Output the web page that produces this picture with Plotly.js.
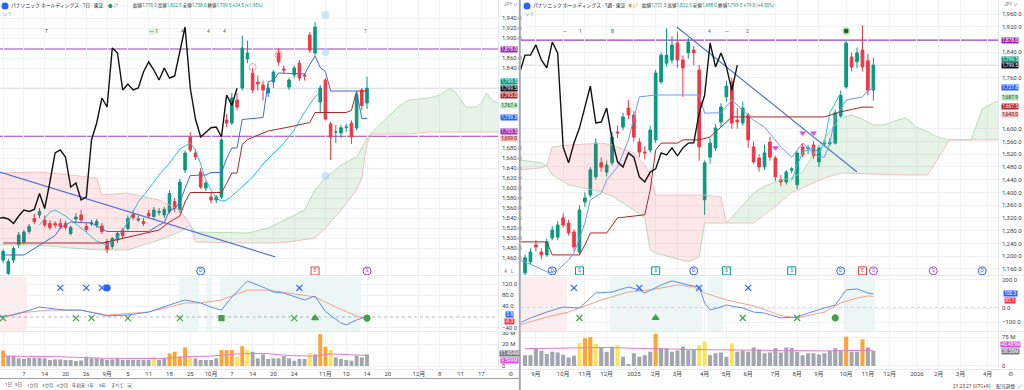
<!DOCTYPE html>
<html><head><meta charset="utf-8">
<script src="https://cdn.plot.ly/plotly-3.0.1.min.js"></script>
<style>html,body{margin:0;padding:0;background:#fff;}#chart{width:1024px;height:390px;}</style>
</head><body><div id="chart"></div>
<script>
// ================= DAILY (left) =================
const dTickIdx  = [0,4,8,12,16,20,24,28,32,36,40,44,48,52,56,62,66,70,74,80,84,88,92];
const dTickText = ["8月","7","14","20","26","9月","5","11","18","25","10月","7","14","20","24","11月","10","14","20","12月","8","11","17"];
const dOpen  = [1456,1429,1456,1486,1492,1513,1539,1546,1536,1529,1529,1529,1529,1509,1538,1546,1523,1528,1526,1524,1493,1483,1496,1516,1519,1548,1536,1533,1549,1543,1551,1546,1553,1573,1556,1636,1702,1670,1632,1600,1582,1576,1582,1736,1730,1776,1800,1858,1830,1812,1806,1790,1812,1870,1838,1802,1826,1850,1826,1906,1870,1772,1816,1728,1712,1710,1721.5,1730,1720,1796,1770];
const dHigh  = [1478,1458,1483,1512,1516,1528,1548,1560,1545,1536,1534,1538,1535,1525,1550,1556,1530,1536,1538,1530,1498,1502,1512,1520,1545,1556,1545,1540,1556,1562,1560,1562,1595,1580,1618,1675,1712,1678,1640,1614,1592,1586,1700,1748,1790,1790,1905,1895,1840,1825,1815,1808,1836,1880,1845,1820,1845,1856,1830,1912,1932,1806,1820,1732,1726,1726,1728,1735,1790,1800,1822.5];
const dLow   = [1450,1425,1450,1480,1488,1508,1528,1540,1522,1516,1520,1518,1516,1505,1530,1532,1512,1524,1520,1508,1470,1478,1490,1500,1515,1536,1532,1524,1540,1538,1545,1540,1550,1552,1550,1630,1672,1656,1598,1594,1570,1570,1578,1722,1726,1755,1795,1850,1790,1795,1775,1782,1800,1845,1828,1796,1820,1814,1815,1870,1865,1750,1735,1656,1690,1700,1712,1688,1715,1756,1758];
const dClose = [1473,1453,1479,1506,1512,1523,1533,1553,1526,1521,1526,1523,1521,1521,1542,1536,1517,1531,1533,1513,1476,1499,1509,1505,1539,1541,1538,1529,1544,1556,1553,1557,1589,1559,1612,1670,1676,1662,1602,1610,1576,1582,1696,1730,1780,1762,1880,1870,1796,1808,1796,1800,1832,1852,1836,1816,1840,1820,1824,1876,1922,1800,1738,1702,1712,1720.5,1722,1702,1786,1765,1799.5];
const dVol   = [14,9.4,9.4,7,6.5,7.5,7.5,7.5,7,5.5,6,6,5.5,5.5,4.5,5,8.5,7,7,6.5,5.5,6,7,5.5,5.5,5.5,5.5,5.5,5.5,8.5,5.5,7,11.5,13,8.5,17,8.5,7,5.5,5.5,5.5,7,14.5,14.5,14.5,8.5,18,14.5,13,7,10.6,6.4,7,7,9,7,4.8,6.4,6.4,12,10.6,29,17.5,14.5,7.9,6.4,5.5,4.8,9.4,7.9,10.6];
const dVolFlag = ("o"+"n".repeat(28)+"y"+"nn"+"oooo"+"y"+"nnnnn"+"oooyoy"+"n".repeat(11)+"y"+"n"+"ooy"+"n".repeat(7)).split("");
const dVolMaX = [0,10,20,30,35,40,45,50,55,60,63,66,70];
const dVolMa  = [9,8.5,7,6.8,8.5,9,11,11.5,9.5,9,11,10.5,9.6];
// ichimoku (daily)
const dTenkanX = [0,4,8,10,11,13,17,20,28,29,30,31,32,33,34,35,36,39,40,42,43,44,45,46,50,51,52,53,58,59,60,61,62,63,68,69,70];
const dTenkan  = [1466,1466,1492,1505,1520,1532,1530,1513,1513,1520,1526,1531,1555,1559,1571,1599,1625,1626,1631,1631,1659,1680,1680,1737,1741,1813,1815,1830,1828,1847,1864,1841,1833,1794,1794,1739,1739];
const dKijunX = [0,19,20,30,32,34,35,36,41,42,43,44,45,46,47,51,55,59,60,66,67,68,70];
const dKijun  = [1490,1490,1492,1516,1532,1544,1572,1591,1591,1591,1609,1630,1630,1687,1697,1714,1722,1731,1751,1751,1755,1794,1794];
const dChikouX = Array.from({length:47},(_,k)=>k-1);
const dChikou = [1539,1541,1538,1529,1544,1556,1553,1557,1589,1559,1612,1670,1676,1662,1602,1610,1576,1582,1696,1730,1780,1762,1880,1870,1796,1808,1796,1800,1832,1852,1836,1816,1840,1820,1824,1876,1922,1800,1738,1702,1712,1720.5,1722,1702,1786,1765,1799.5];
const dCloudX = [-1,7,13,18,19,24,30,34,36,37,47,51,55,58,60,62,65,68,69,70,71,76,78,82,84,86,87,89,91,92,93,94,96];
const dSpanA  = [1486,1486,1480,1476,1476,1476,1496,1512,1526,1512,1510,1520,1540,1556,1596,1620,1646,1662,1680,1700,1712,1762,1776,1780,1786,1800,1792,1762,1762,1770,1790,1776,1766];
const dSpanB  = [1630,1632,1626,1620,1586,1590,1576,1556,1526,1492,1490,1490,1492,1496,1500,1520,1556,1596,1620,1690,1708,1708,1708,1712,1712,1712,1712,1712,1712,1712,1712,1712,1712];
const dCyanX = [7,9,10,12,15,18,20,22,24,26,28,30,32,34,36,37,38,39,40,41,42,43,44,45,46,47,48,50,52,54,56,58,60,61];
const dCyan  = [1526,1552,1556,1544,1520,1494,1486,1500,1532,1572,1598,1626,1650,1678,1690,1676,1648,1616,1596,1580,1574,1576,1584,1594,1604,1612,1622,1648,1670,1690,1716,1752,1782,1792];
const dLevels = [1878,1703.5];
const dTrendX = [-0.6,52.4], dTrendY = [1632,1462];
// macd (daily)
const dMacdX = [-1,2,7,12,15,20,24,28,32,35,38,40,42,44,47,49,50,52,54,58,60,62,65,66,68,70];
const dMacd  = [0,7,36,25,25,4,7,18,44,62,51,36,25,73,131,116,109,91,87,62,76,20,-22,-29,-11,3.8];
const dSigX  = [-1,3,9,15,20,28,35,38,42,47,51,55,60,64,68,70];
const dSig   = [-4,15,25,25,7,18,51,51,62,98,98,87,73,36,4,-8.3];
const dZones = [[-1,4.6,"sell"],[33.8,37.7,"buy"],[39,40,"buy"],[41.7,68.8,"buy"]];
const dCrossUp = [11,16,19,57], dDotUp=[20];
const dCrossDn = [0,14,17,24,34,56], dSqDn=[42], dTriDn=[60], dDotDn=[70];
const dEvents = [[38,"D","blue"],[60,"E","red"],[70,"S","purple"]];

// ================= WEEKLY (right) =================
const wTickIdx  = [2,7,11,15,20,24,28,33,37,41,46,50,54,59,63,67,72,76,80,85];
const wTickText = ["9月","10月","11月","12月","2025","2月","3月","4月","5月","6月","7月","8月","9月","10月","11月","12月","2026","2月","3月","4月"];
const wOpen  = [1148,1182,1235,1213,1204,1257,1260,1320,1304,1276,1213,1370,1392,1449,1493,1464,1493,1590,1605,1665,1643,1558,1527,1533,1565,1747,1806,1816,1869,1816,1838,1847,1784,1377,1511,1540,1621,1700,1747,1627,1618,1643,1543,1508,1480,1558,1508,1440,1433,1470,1424,1543,1538,1549,1496,1552,1553,1555,1640,1731,1825,1810,1847,1813,1721.5];
const wHigh  = [1205,1225,1250,1225,1255,1295,1310,1335,1315,1285,1360,1400,1480,1570,1510,1500,1590,1610,1650,1690,1655,1570,1545,1610,1785,1840,1915,1890,1905,1830,1885,1860,1800,1500,1570,1615,1680,1750,1760,1665,1685,1650,1560,1520,1550,1575,1515,1455,1470,1480,1530,1555,1550,1560,1548,1565,1570,1660,1720,1880,1840,1855,1925,1835,1822.5];
const wLow   = [1135,1175,1215,1190,1198,1250,1250,1290,1265,1215,1205,1355,1385,1440,1465,1450,1485,1570,1595,1630,1560,1510,1505,1525,1555,1740,1795,1805,1790,1700,1820,1800,1500,1330,1490,1530,1605,1685,1600,1600,1610,1540,1490,1465,1470,1500,1435,1420,1425,1460,1410,1510,1520,1505,1480,1545,1545,1550,1635,1725,1780,1790,1780,1705,1688];
const wClose = [1195,1213,1229,1204,1245,1282,1298,1298,1273,1229,1345,1383,1471,1555,1480,1486,1574,1587,1637,1643,1574,1527,1524,1596,1775,1831,1831,1863,1816,1791,1872,1838,1543,1493,1555,1602,1668,1734,1618,1621,1665,1565,1496,1480,1524,1511,1449,1433,1464,1474,1524,1518,1540,1515,1540,1555,1556,1650,1705,1869,1794,1838,1794,1720.5,1799.5];
const wVol   = [28,28,44,39,31,37,35,29,22,27,59,72,75,57,48,37,50,54,24,5,33,24,28,37,83,46,46,37,40,50,41,43,54,63,28,33,35,24,59,37,40,37,48,43,33,35,46,35,48,47,37,28,33,33,30,33,39,46,41,76,37,37,69,48,39];
const wVolFlag = ("n".repeat(10)+"yooy"+"nnn"+"y"+"n".repeat(6)+"o"+"n".repeat(7)+"yy"+"nnnn"+"y"+"n".repeat(20)+"o"+"nn"+"o"+"nn").split("");
const wVolMaX = [0,10,15,20,25,30,35,40,45,50,55,60,64];
const wVolMa  = [45,46,48,46,44,43,42,41,40,40,39,40,40.5];
const wTenkanX = [-1,1,4,5,6,8,9,11,12,14,15,17,19,20,21,24,32,33,36,38,42,44,46,47,49,51,53,54,55,56,57,59,62,63,64];
const wTenkan  = [1188,1175,1151,1148,1157,1188,1210,1304,1377,1398,1439,1480,1565,1637,1700,1706,1706,1649,1650,1690,1627,1605,1565,1543,1511,1555,1524,1511,1511,1555,1637,1690,1700,1720,1727.8];
const wKijunX = [-1,4,5,10,11,12,15,17,22,23,24,25,28,29,32,34,36,38,55,58,62,64];
const wKijun  = [1245,1245,1204,1204,1235,1273,1273,1320,1330,1408,1533,1555,1555,1565,1565,1574,1605,1637,1637,1653,1668,1667.5];
const wChikouX = Array.from({length:41},(_,k)=>k-1);
const wChikou = [1775,1831,1831,1863,1816,1791,1872,1838,1543,1493,1555,1602,1668,1734,1618,1621,1665,1565,1496,1480,1524,1511,1449,1433,1464,1474,1524,1518,1540,1515,1540,1555,1556,1650,1705,1869,1794,1838,1794,1720.5,1799.5];
const wCloudX = [-1,3,4,5,8,12,14,16,20,22,23,24,30,32,33,36,37,40,42,44,47,49,51,53,55,58,60,62,64,66,68,70,72,74,76,78,82,84,86,88];
const wSpanA  = [1502,1493,1483,1455,1424,1408,1402,1389,1345,1320,1220,1210,1182,1198,1304,1304,1304,1360,1398,1420,1439,1446,1464,1520,1570,1634,1643,1630,1612,1612,1625,1634,1605,1590,1572,1565,1565,1662,1681,1692];
const wSpanB  = [1471,1477,1483,1543,1549,1552,1555,1549,1524,1486,1455,1392,1392,1392,1392,1386,1304,1304,1304,1330,1370,1400,1415,1430,1445,1461,1460,1458,1456,1456,1455,1455,1455,1455,1510,1565,1565,1565,1565,1565];
const wCyanX = [49,51,53,54,55,56,58];
const wCyan  = [1439,1527,1540,1524,1555,1650,1712];
const wLevels = [1878];
const wTrendX = [27.9,61.0], wTrendY = [1919,1464];
const wMacdX = [-1,1,4,7,10,13,16,19,21,22,25,27,30,32,33,34,36,37,40,42,44,47,50,52,55,57,59,61,63,64];
const wMacd  = [-107,-71,-29,7,0,107,114,150,129,107,164,193,164,150,36,-14,7,21,0,-29,-36,-71,-64,-36,0,21,129,136,107,100.3];
const wSigX  = [-1,4,8,14,19,23,28,31,33,37,42,44,47,50,55,58,61,63,64];
const wSig   = [-121,-64,-29,57,114,129,164,150,107,57,15,-10,-55,-71,-29,36,71,86,83.1];
const wZones = [[-1,7.7,"sell"],[15.6,32.5,"buy"],[33.5,36.4,"buy"],[58.5,64.3,"buy"]];
const wCrossUp = [9,21,32,41];
const wCrossDn = [10,40,50], wTriDn=[24], wDotDn=[57];
const wEvents = [[5,"D","blue"],[10,"$","green"],[24,"$","green"],[31,"D","blue"],[37,"$","green"],[49,"$","green"],[58,"D","blue"],[62,"E","red"],[64,"S","purple"],[75,"S","purple"],[84,"D","blue"]];
const wSignalTri = [[46,1540],[51,1587],[53,1587]];

// ================= helpers =================
const GREEN='#089981', RED='#f23645';
const idx = a => a.map((_,k)=>k);
const FONT = "Roboto, 'Noto Sans CJK JP', sans-serif";
const VC = {n:'#a3a6af', y:'#fbe35a', o:'#ffa431'};

function cloudSegs(xs,a,b){
  const segs=[]; let cur=null, cs=0;
  for(let k=0;k<xs.length;k++){
    const s=Math.sign(a[k]-b[k]);
    if(!cur){cur={x:[xs[k]],a:[a[k]],b:[b[k]]};cs=s;continue;}
    if(s===0){cur.x.push(xs[k]);cur.a.push(a[k]);cur.b.push(b[k]);segs.push({...cur,sign:cs});cur={x:[xs[k]],a:[a[k]],b:[b[k]]};cs=0;continue;}
    if(cs===0||s===cs){cur.x.push(xs[k]);cur.a.push(a[k]);cur.b.push(b[k]);cs=s;}
    else{
      const d0=a[k-1]-b[k-1], d1=a[k]-b[k], t=d0/(d0-d1);
      const xc=xs[k-1]+t*(xs[k]-xs[k-1]), yc=a[k-1]+t*(a[k]-a[k-1]);
      cur.x.push(xc);cur.a.push(yc);cur.b.push(yc);segs.push({...cur,sign:cs});
      cur={x:[xc,xs[k]],a:[yc,a[k]],b:[yc,b[k]]};cs=s;
    }
  }
  if(cur)segs.push({...cur,sign:cs});
  return segs.filter(s=>s.x.length>1&&s.sign!==0);
}
function cloudTraces(xs,a,b,xa,ya){
  const out=[];
  cloudSegs(xs,a,b).forEach(s=>{
    out.push({type:'scatter',mode:'lines',x:s.x.concat(s.x.slice().reverse()),y:s.a.concat(s.b.slice().reverse()),
      fill:'toself',fillcolor:s.sign>0?'rgba(67,160,71,0.13)':'rgba(242,54,69,0.12)',line:{width:0},xaxis:xa,yaxis:ya,hoverinfo:'skip'});
  });
  out.push({type:'scatter',mode:'lines',x:xs,y:a,line:{color:'#a5d6a7',width:0.8},xaxis:xa,yaxis:ya,hoverinfo:'skip'});
  out.push({type:'scatter',mode:'lines',x:xs,y:b,line:{color:'#f3b3b3',width:0.8},xaxis:xa,yaxis:ya,hoverinfo:'skip'});
  return out;
}
function line(x,y,color,w,xa,ya,dash){return {type:'scatter',mode:'lines',x:x,y:y,line:{color:color,width:w,dash:dash||'solid'},xaxis:xa,yaxis:ya,hoverinfo:'skip'};}
function marks(x,yv,sym,color,size,xa,ya,lw){return {type:'scatter',mode:'markers',x:x,y:x.map(()=>yv),marker:{symbol:sym,color:color,size:size,line:{color:color,width:lw||1.2}},xaxis:xa,yaxis:ya,hoverinfo:'skip'};}
const EVC={blue:'#2962ff',green:'#089981',red:'#f23645',purple:'#ab47bc'};
function events(ev,yv,xa,ya){
  return {type:'scatter',mode:'markers+text',x:ev.map(e=>e[0]),y:ev.map(()=>yv),text:ev.map(e=>e[1]),
    textfont:{size:5,color:ev.map(e=>EVC[e[2]])},textposition:'middle center',
    marker:{symbol:ev.map(e=>e[2]==='green'||e[2]==='red'?'square-open':'circle-open'),size:8,color:ev.map(e=>EVC[e[2]]),line:{width:1,color:ev.map(e=>EVC[e[2]])}},
    xaxis:xa,yaxis:ya,hoverinfo:'skip'};
}

const traces=[];
// ---- left main
traces.push(...cloudTraces(dCloudX,dSpanA,dSpanB,'x','y'));
traces.push(line(dTrendX,dTrendY,'#5573d6',1.2,'x','y'));
traces.push(line(dCyanX,dCyan,'#26c6da',1,'x','y'));
traces.push(line(dKijunX,dKijun,'#a52a2a',1,'x','y'));
traces.push(line(dTenkanX,dTenkan,'#3f67e0',1,'x','y'));
traces.push(line(dChikouX,dChikou,'#111111',1.4,'x','y'));
traces.push({type:'candlestick',x:idx(dClose),open:dOpen,high:dHigh,low:dLow,close:dClose,xaxis:'x',yaxis:'y',whiskerwidth:0,
  increasing:{line:{color:GREEN,width:1},fillcolor:GREEN},decreasing:{line:{color:RED,width:1},fillcolor:RED},hoverinfo:'skip'});
traces.push(events(dEvents,1434,'x','y'));
traces.push({type:'scatter',mode:'markers',x:[62,62,62],y:[1946,1872,1624],marker:{size:8,color:'rgba(144,202,249,0.45)'},xaxis:'x',yaxis:'y',hoverinfo:'skip'});
traces.push({type:'scatter',mode:'markers',x:[48,53],y:[1842,1866],marker:{symbol:'circle-open',size:7,color:'rgba(242,54,69,0.45)',line:{width:1}},xaxis:'x',yaxis:'y',hoverinfo:'skip'});
// ---- left macd
traces.push(line(dSigX,dSig,'#f5a08a',1,'x','y2'));
traces.push(line(dMacdX,dMacd,'#5b8def',1,'x','y2'));
traces.push(marks(dCrossUp,106,'x-thin-open','#2962ff',6,'x','y2'));
traces.push(marks(dDotUp,106,'circle','#2962ff',6,'x','y2'));
traces.push(marks(dCrossDn,-4,'x-thin-open','#43a047',6,'x','y2'));
traces.push(marks(dSqDn,-4,'square','#43a047',5,'x','y2'));
traces.push(marks(dTriDn,-4,'triangle-up','#43a047',6,'x','y2'));
traces.push(marks(dDotDn,-4,'circle','#43a047',6,'x','y2'));
// ---- left volume
traces.push({type:'bar',x:idx(dVol),y:dVol,marker:{color:dVolFlag.map(f=>VC[f]),line:{width:0}},xaxis:'x',yaxis:'y3',hoverinfo:'skip'});
traces.push(line(dVolMaX,dVolMa,'#e27bd7',1,'x','y3'));

// ---- right main
traces.push(...cloudTraces(wCloudX,wSpanA,wSpanB,'x2','y4'));
traces.push(line(wTrendX,wTrendY,'#5573d6',1.2,'x2','y4'));
traces.push(line(wCyanX,wCyan,'#26c6da',1,'x2','y4'));
traces.push(line(wKijunX,wKijun,'#a52a2a',1,'x2','y4'));
traces.push(line(wTenkanX,wTenkan,'#6f9af0',1,'x2','y4'));
traces.push(line(wChikouX,wChikou,'#111111',1.4,'x2','y4'));
traces.push({type:'candlestick',x:idx(wClose),open:wOpen,high:wHigh,low:wLow,close:wClose,xaxis:'x2',yaxis:'y4',whiskerwidth:0,
  increasing:{line:{color:GREEN,width:1},fillcolor:GREEN},decreasing:{line:{color:RED,width:1},fillcolor:RED},hoverinfo:'skip'});
traces.push(events(wEvents,1154,'x2','y4'));
traces.push({type:'scatter',mode:'markers',x:wSignalTri.map(p=>p[0]),y:wSignalTri.map(p=>p[1]),marker:{symbol:'triangle-down',size:6,color:'#d84fe0'},xaxis:'x2',yaxis:'y4',hoverinfo:'skip'});
traces.push({type:'scatter',mode:'markers',x:[59],y:[1907],marker:{symbol:'circle',size:6,color:'#1b5e20',line:{color:'#a5d6a7',width:1.5}},xaxis:'x2',yaxis:'y4',hoverinfo:'skip'});
// ---- right macd
traces.push(line(wSigX,wSig,'#f5a08a',1,'x2','y5'));
traces.push(line(wMacdX,wMacd,'#5b8def',1,'x2','y5'));
traces.push(marks(wCrossUp,143,'x-thin-open','#2962ff',6,'x2','y5'));
traces.push(marks(wCrossDn,-71,'x-thin-open','#43a047',6,'x2','y5'));
traces.push(marks(wTriDn,-71,'triangle-up','#43a047',6,'x2','y5'));
traces.push(marks(wDotDn,-71,'circle','#43a047',6,'x2','y5'));
// ---- right volume
traces.push({type:'bar',x:idx(wVol),y:wVol,marker:{color:wVolFlag.map(f=>VC[f]),line:{width:0}},xaxis:'x2',yaxis:'y6',hoverinfo:'skip'});
traces.push(line(wVolMaX,wVolMa,'#e27bd7',1,'x2','y6'));

// ================= layout =================
const W=1024,H=390;
const px=x=>x/W, py=y=>1-y/H;
const GRID='#f0f2f6';
const tickF={size:6,color:'#3b3f4a',family:FONT};
function yax(domain,range,anchor,vals,text,fmt){
  const o={domain:domain,range:range,anchor:anchor,side:'right',showgrid:true,gridcolor:GRID,gridwidth:1,zeroline:false,showline:false,
    ticks:'',tickfont:tickF,tickvals:vals,fixedrange:true,ticklabelstandoff:3};
  if(text)o.ticktext=text; if(fmt)o.tickformat=fmt; return o;
}
const rng=(a,b,s)=>{const r=[];for(let v=a;v<=b+1e-9;v+=s)r.push(v);return r;};
const without=(arr,ex)=>arr.filter(v=>ex.indexOf(v)<0);
const mainDom=[py(275),1], macdDom=[py(331),py(277)], volDom=[py(369),py(332)];

const shapes=[];
function hl(y,yref,xref,color,w,dash){shapes.push({type:'line',xref:xref+' domain',x0:0,x1:1,yref:yref,y0:y,y1:y,line:{color:color,width:w,dash:dash||'solid'},layer:'below'});}
dLevels.forEach(v=>hl(v,'y','x','#a33bb8',1.2));
wLevels.forEach(v=>hl(v,'y4','x2','#a33bb8',1.2));
hl(dClose[dClose.length-1],'y','x','#d6d8de',1);
hl(wClose[wClose.length-1],'y4','x2','#d6d8de',1);
hl(0,'y2','x','#b2b5be',1,'dot');
hl(0,'y5','x2','#b2b5be',1,'dot');
function zones(z,xref,yref){z.forEach(r=>shapes.push({type:'rect',xref:xref,x0:r[0],x1:r[1],yref:yref+' domain',y0:0,y1:1,fillcolor:r[2]==='sell'?'rgba(242,54,69,0.09)':'rgba(8,153,129,0.08)',line:{width:0},layer:'below'}));}
zones(dZones,'x','y2'); zones(wZones,'x2','y5');
function pl(x0,y0,x1,y1,c,w){shapes.push({type:'line',xref:'paper',yref:'paper',x0:px(x0),x1:px(x1),y0:py(y0),y1:py(y1),line:{color:c,width:w}});}
pl(0,275.5,519,275.5,'#e6e8ee',1); pl(521,275.5,1024,275.5,'#e6e8ee',1);
pl(0,331.5,519,331.5,'#e6e8ee',1); pl(521,331.5,1024,331.5,'#e6e8ee',1);
pl(0,369.5,519,369.5,'#e6e8ee',1); pl(521,369.5,1024,369.5,'#e6e8ee',1);
pl(498.5,0,498.5,369.5,'#e6e8ee',1); pl(998.5,0,998.5,369.5,'#e6e8ee',1);
pl(0,378.5,519,378.5,'#9ea1aa',1);
pl(519.8,0,519.8,390,'#a6a9b1',2);
shapes.push({type:'circle',xref:'paper',yref:'paper',x0:px(1.5),x1:px(8.5),y0:py(9.5),y1:py(2.5),fillcolor:'#2962ff',line:{width:0}});
shapes.push({type:'circle',xref:'paper',yref:'paper',x0:px(523.5),x1:px(530.5),y0:py(9.5),y1:py(2.5),fillcolor:'#2962ff',line:{width:0}});

const ann=[];
function tag(y,yref,xc,text,bg,fc){ann.push({xref:'paper',yref:yref,x:px(xc),y:y,text:text,showarrow:false,font:{size:4.8,color:fc||'#fff',family:FONT},bgcolor:bg,borderpad:0.2,xanchor:'center',yanchor:'middle'});}
// left price tags
tag(1878,'y',509,'1,878.0','#9c27b0');
tag(1813,'y',509,'1,799.5',GREEN);
tag(1799.5,'y',509,'1,799.5','#131722');
tag(1785,'y',509,'1,793.0','#b22833');
tag(1766,'y',509,'1,767.4','#b8e0bf','#1f5f2a');
tag(1742,'y',509,'1,739.3','#2962ff');
tag(1713,'y',509,'1,703.5','#9c27b0');
tag(1699,'y',509,'1,699.0','#f6b3b3','#7a2020');
tag(8,'y2',509,'3.8','#2962ff');
tag(-18,'y2',509,'-8.3','#f23645');
tag(11.6,'y3',509,'11.404M','#787b86');
tag(5.4,'y3',509,'9.599M','#d64fe0');
// right price tags
tag(1878,'y4',1010,'1,878.0','#9c27b0');
tag(1818,'y4',1010,'1,799.5',GREEN);
tag(1797,'y4',1010,'1,799.5','#131722');
tag(1728,'y4',1010,'1,727.8','#2962ff');
tag(1697,'y4',1010,'1,687.9','#b8e0bf','#1f5f2a');
tag(1669,'y4',1010,'1,667.5','#b22833');
tag(1645,'y4',1010,'1,643.0','#f6b3b3','#7a2020');
tag(104,'y5',1010,'100.3','#2962ff');
tag(54,'y5',1010,'83.1','#f23645');
tag(55,'y6',1010,'40.485M','#d64fe0');
tag(37,'y6',1010,'38.58M','#787b86');

function txt(x,y,t,size,color,anchor,bg){ann.push({xref:'paper',yref:'paper',x:px(x),y:py(y),text:t,showarrow:false,font:{size:size,color:color||'#131722',family:FONT},xanchor:anchor||'left',yanchor:'middle',bgcolor:bg||'rgba(0,0,0,0)',borderpad:0});}
const S=s=>'<span style="color:#089981">'+s+'</span>';
txt(10,6,'パナソニック ホールディングス · 1日 · 東証',4.8,'#131722');
txt(107,6,S('●')+' ⇄',4.4,'#787b86');
txt(120,6,'···',4.4,'#787b86');
txt(132,6,'始値'+S('1,770.0')+' 高値'+S('1,822.5')+' 安値'+S('1,758.0')+' 終値'+S('1,799.5')+' '+S('+34.5 (+1.95%)'),4.5,'#131722');
txt(2,15,'∨ 1',4.5,'#787b86');
txt(532,6,'パナソニック ホールディングス · 1週 · 東証',4.8,'#131722');
txt(627,6,'◉ ⇄',4.4,'#e39a3b');
txt(641,6,'始値'+S('1,721.5')+' 高値'+S('1,822.5')+' 安値'+S('1,688.0')+' 終値'+S('1,799.5')+' '+S('+79.0 (+4.59%)'),4.6,'#131722');
txt(524,15,'∨ 1',4.5,'#787b86');
txt(503,5,'JPY ∨',4.5,'#787b86');
txt(1003,5,'JPY ∨',4.5,'#787b86');
txt(503,271,'A   L',5,'#787b86');
[[46,'T'],[182,'4'],[208,'4'],[224,'4']].forEach(p=>txt(p[0],31,p[1],5,'#555','center'));
txt(365,31,'T',5,'#e0524f','center');
txt(153,31,'一 1',5,'#2e7d32','center','#e3f3e6');
[[565,'—'],[580,'1'],[709,'4'],[727,'—'],[747,'2']].forEach(p=>txt(p[0],31,p[1],5,'#555','center'));
txt(612,31,'8',5,'#2e7d32','center','#e3f3e6');
[[4,'1日'],[14,'5日'],[26,'1か月'],[41,'3か月'],[56,'6か月'],[71,'年初来'],[86,'1年'],[98,'5年'],[110,'すべて']].forEach(p=>txt(p[0],385,p[1],4.4,'#3b3f4a'));
txt(126,385,'▣',5,'#6a6d78');
txt(952,386,'21:23:27 (UTC+9)',4.8,'#3b3f4a');
txt(995,386,'配当調整',4.8,'#3b3f4a');
txt(1017,386,'⤢',5,'#6a6d78');
txt(510,373,'⚙',6,'#6a6d78','center');
txt(1010,373,'⚙',6,'#6a6d78','center');

const layout={
  width:W,height:H,margin:{l:0,r:0,t:0,b:0},paper_bgcolor:'#fff',plot_bgcolor:'#fff',showlegend:false,
  font:{family:FONT,size:6,color:'#3b3f4a'},barmode:'overlay',bargap:0.25,hovermode:false,dragmode:false,
  xaxis:{domain:[0,px(498)],range:[-0.6,95.2],anchor:'y3',tickvals:dTickIdx,ticktext:dTickText,showgrid:true,gridcolor:GRID,zeroline:false,showline:false,ticks:'',tickfont:tickF,rangeslider:{visible:false},fixedrange:true},
  xaxis2:{domain:[px(521),px(998)],range:[-0.74,86.9],anchor:'y6',tickvals:wTickIdx,ticktext:wTickText,showgrid:true,gridcolor:GRID,zeroline:false,showline:false,ticks:'',tickfont:tickF,rangeslider:{visible:false},fixedrange:true},
  yaxis: yax(mainDom,[1426,1976],'x',without(rng(1460,1940,20),[1880,1700,1720,1740,1760,1780,1800,1820]),null,',.1f'),
  yaxis2:yax(macdDom,[-51,145.6],'x',[-40,40,80,120],null,'.1f'),
  yaxis3:yax(volDom,[-2.7,30.9],'x',[0,20,30],['0','20 M','30 M']),
  yaxis4:yax(mainDom,[1141,2004],'x2',without(rng(1160,1960,40),[1880,1800,1720,1680,1640]),null,',.1f'),
  yaxis5:yax(macdDom,[-164,221],'x2',[-100,0,200],null,'.1f'),
  yaxis6:yax(volDom,[-7.8,88],'x2',[0,75],['0','75 M']),
  shapes:shapes,annotations:ann
};
Plotly.newPlot('chart',traces,layout,{staticPlot:true,displayModeBar:false});
</script></body></html>
